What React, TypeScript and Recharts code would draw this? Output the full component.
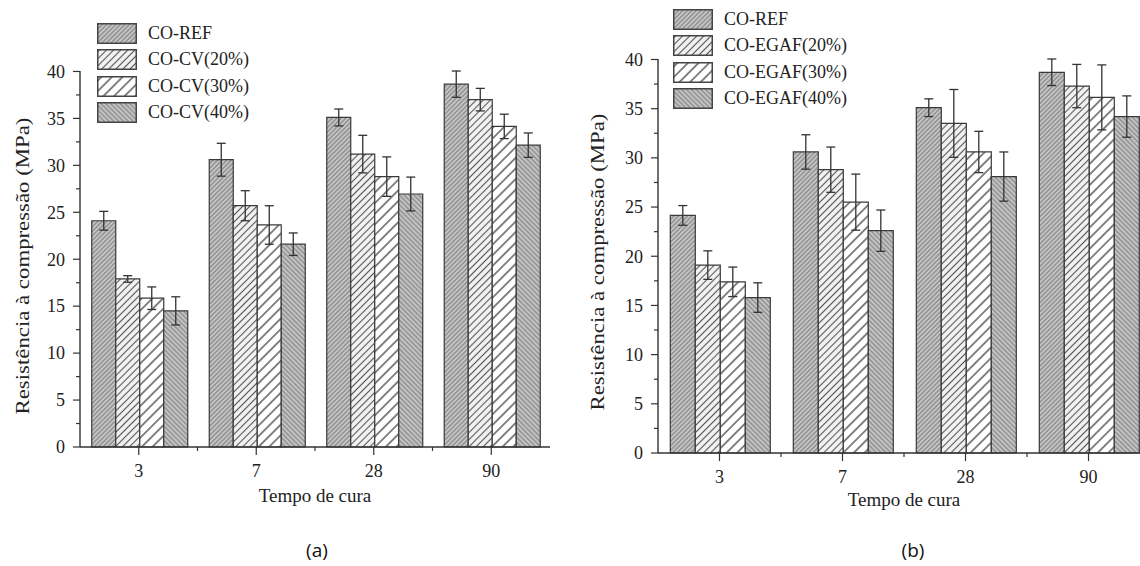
import { BarChart, Bar, XAxis, YAxis, ErrorBar } from 'recharts';

const AGES = ['3', '7', '28', '90'];

// (a) CO-CV
const REF_A = [24.1, 30.6, 35.1, 38.65];
const REF_A_ERR = [1.0, 1.75, 0.9, 1.4];
const CV20 = [17.9, 25.7, 31.2, 37.0];
const CV20_ERR = [0.35, 1.6, 2.0, 1.2];
const CV30 = [15.85, 23.65, 28.8, 34.15];
const CV30_ERR = [1.2, 2.05, 2.1, 1.3];
const CV40 = [14.5, 21.6, 26.95, 32.15];
const CV40_ERR = [1.5, 1.2, 1.8, 1.3];

// (b) CO-EGAF
const REF_B = [24.15, 30.6, 35.1, 38.7];
const REF_B_ERR = [1.0, 1.75, 0.9, 1.35];
const EG20 = [19.1, 28.8, 33.5, 37.3];
const EG20_ERR = [1.45, 2.3, 3.45, 2.2];
const EG30 = [17.4, 25.5, 30.6, 36.15];
const EG30_ERR = [1.5, 2.85, 2.1, 3.3];
const EG40 = [15.8, 22.6, 28.1, 34.2];
const EG40_ERR = [1.5, 2.1, 2.5, 2.1];

const LEGEND_A = ['CO-REF', 'CO-CV(20%)', 'CO-CV(30%)', 'CO-CV(40%)'];
const LEGEND_B = ['CO-REF', 'CO-EGAF(20%)', 'CO-EGAF(30%)', 'CO-EGAF(40%)'];

const Y_TICKS = [0, 2.5, 5, 7.5, 10, 12.5, 15, 17.5, 20, 22.5, 25, 27.5, 30, 32.5, 35, 37.5, 40];

const dataA = AGES.map((age, i) => ({
  age,
  s0: REF_A[i], e0: REF_A_ERR[i],
  s1: CV20[i], e1: CV20_ERR[i],
  s2: CV30[i], e2: CV30_ERR[i],
  s3: CV40[i], e3: CV40_ERR[i],
}));

const dataB = AGES.map((age, i) => ({
  age,
  s0: REF_B[i], e0: REF_B_ERR[i],
  s1: EG20[i], e1: EG20_ERR[i],
  s2: EG30[i], e2: EG30_ERR[i],
  s3: EG40[i], e3: EG40_ERR[i],
}));

const SERIF = '"Liberation Serif", "Times New Roman", serif';
const INK = '#333';
const PATTERNS = ['pRef', 'p20', 'p30', 'p40'];
const TM = 10; // tick margin

function Patterns() {
  return (
    <svg width={0} height={0} style={{ position: 'absolute' }}>
      <defs>
        <pattern id="pRef" width={3.2} height={3.2} patternUnits="userSpaceOnUse" patternTransform="rotate(45)">
          <rect width={3.2} height={3.2} fill="#c6c6c6" />
          <line x1={1.6} y1={0} x2={1.6} y2={3.2} stroke="#6a6a6a" strokeWidth={0.85} />
        </pattern>
        <pattern id="p20" width={5} height={5} patternUnits="userSpaceOnUse" patternTransform="rotate(45)">
          <rect width={5} height={5} fill="#f2f2f2" />
          <line x1={2.5} y1={0} x2={2.5} y2={5} stroke="#555" strokeWidth={1.1} />
        </pattern>
        <pattern id="p30" width={7.5} height={7.5} patternUnits="userSpaceOnUse" patternTransform="rotate(45)">
          <rect width={7.5} height={7.5} fill="#ffffff" />
          <line x1={3.75} y1={0} x2={3.75} y2={7.5} stroke="#444" strokeWidth={1.3} />
        </pattern>
        <pattern id="p40" width={3.4} height={3.4} patternUnits="userSpaceOnUse" patternTransform="rotate(-45)">
          <rect width={3.4} height={3.4} fill="#c4c4c4" />
          <line x1={1.7} y1={0} x2={1.7} y2={3.4} stroke="#6a6a6a" strokeWidth={0.85} />
        </pattern>
      </defs>
    </svg>
  );
}

function YTick(props: any) {
  const { x, y, payload } = props;
  const v = payload.value as number;
  const major = v % 5 === 0;
  const ax = x + TM;
  return (
    <g>
      <line x1={ax - (major ? 7 : 4)} x2={ax} y1={y} y2={y} stroke={INK} strokeWidth={1.2} />
      {major && (
        <text x={ax - 15} y={y} dy="0.35em" textAnchor="end" fontFamily={SERIF} fontSize={18} fill="#222">
          {v}
        </text>
      )}
    </g>
  );
}

function makeXTick(band: number) {
  return function XTick(props: any) {
    const { x, y, payload, index } = props;
    const ay = y - TM;
    return (
      <g>
        <line x1={x} x2={x} y1={ay} y2={ay + 8} stroke={INK} strokeWidth={1.2} />
        {index < 3 && (
          <line x1={x + band / 2} x2={x + band / 2} y1={ay} y2={ay + 4} stroke={INK} strokeWidth={1.2} />
        )}
        <text x={x} y={ay + 24} dy="0.35em" textAnchor="middle" fontFamily={SERIF} fontSize={18} fill="#222">
          {payload.value}
        </text>
      </g>
    );
  };
}

const XTickA = makeXTick(117.5);
const XTickB = makeXTick(123);

function LegendBox(props: { names: string[]; left: number; top: number }) {
  return (
    <div style={{ position: 'absolute', left: props.left, top: props.top, fontFamily: SERIF, fontSize: 18, color: '#222' }}>
      {props.names.map((n, i) => (
        <div key={n} style={{ display: 'flex', alignItems: 'center', height: 26.5 }}>
          <svg width={40} height={21} style={{ display: 'block' }}>
            <rect x={0.75} y={0.75} width={38.5} height={19.5} fill={`url(#${PATTERNS[i]})`} stroke="#444" strokeWidth={1.5} />
          </svg>
          <span style={{ marginLeft: 11, whiteSpace: 'nowrap' }}>{n}</span>
        </div>
      ))}
    </div>
  );
}

function bars() {
  return [0, 1, 2, 3].map((k) => (
    <Bar
      key={k}
      dataKey={`s${k}`}
      fill={`url(#${PATTERNS[k]})`}
      stroke="#3a3a3a"
      strokeWidth={1.2}
      isAnimationActive={false}
    >
      <ErrorBar dataKey={`e${k}`} width={4.5} stroke={INK} strokeWidth={1.3} direction="y" />
    </Bar>
  ));
}

const axisLine = { stroke: INK, strokeWidth: 1.4 };

function Panel(props: {
  left: number;
  width: number;
  height: number;
  margin: { top: number; right: number; bottom: number; left: number };
  data: any[];
  XTick: any;
}) {
  const { left, width, height, margin, data, XTick } = props;
  return (
    <div style={{ position: 'absolute', left, top: 0 }}>
      <BarChart width={width} height={height} data={data} margin={margin} barCategoryGap="10%" barGap={0}>
        <XAxis
          dataKey="age"
          axisLine={axisLine}
          tickLine={false}
          tickSize={0}
          tickMargin={TM}
          tick={<XTick />}
          interval={0}
          height={60}
        />
        <YAxis
          domain={[0, 40]}
          ticks={Y_TICKS}
          interval={0}
          axisLine={axisLine}
          tickLine={false}
          tickSize={0}
          tickMargin={TM}
          tick={<YTick />}
          width={60}
        />
        {bars()}
      </BarChart>
    </div>
  );
}

const titleStyle: React.CSSProperties = {
  position: 'absolute',
  fontFamily: SERIF,
  fontSize: 19,
  color: '#222',
  whiteSpace: 'nowrap',
};

const captionStyle: React.CSSProperties = {
  position: 'absolute',
  top: 550,
  transform: 'translate(-50%, -50%)',
  fontFamily: '"Open Sans", sans-serif',
  fontSize: 19,
  color: '#111',
};

// the rotated titles are drawn a bit longer than the horizontal ones
const yTitleTransform = 'translate(-50%, -50%) rotate(-90deg) scaleX(1.2)';

export default function App() {
  return (
    <div
      style={{
        position: 'absolute',
        left: 0,
        top: 0,
        width: 1140,
        height: 566,
        overflow: 'hidden',
        background: '#fff',
      }}
    >
      <Patterns />
      <Panel
        left={0}
        width={580}
        height={520}
        margin={{ top: 71, right: 30, bottom: 13, left: 20 }}
        data={dataA}
        XTick={XTickA}
      />
      <Panel
        left={580}
        width={580}
        height={526}
        margin={{ top: 59, right: 10, bottom: 13, left: 18 }}
        data={dataB}
        XTick={XTickB}
      />
      <LegendBox names={LEGEND_A} left={97} top={20} />
      <LegendBox names={LEGEND_B} left={673} top={6} />

      {/* axis titles */}
      <div style={{ ...titleStyle, left: 315, top: 496, transform: 'translate(-50%, -50%)' }}>Tempo de cura</div>
      <div style={{ ...titleStyle, left: 904, top: 500, transform: 'translate(-50%, -50%)' }}>Tempo de cura</div>
      <div style={{ ...titleStyle, left: 23, top: 266, transform: yTitleTransform }}>
        Resistência à compressão (MPa)
      </div>
      <div style={{ ...titleStyle, left: 598, top: 262, transform: yTitleTransform }}>
        Resistência à compressão (MPa)
      </div>

      {/* panel captions */}
      <div style={{ ...captionStyle, left: 317 }}>(a)</div>
      <div style={{ ...captionStyle, left: 913 }}>(b)</div>
    </div>
  );
}
